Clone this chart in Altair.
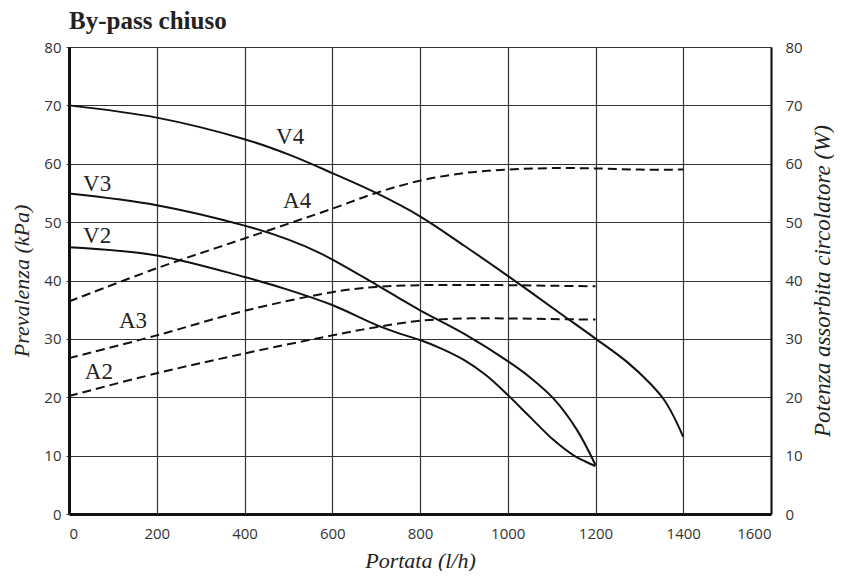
import altair as alt
import pandas as pd

# Pump curves (Prevalenza, kPa) - left axis
V4_x = [0, 200, 400, 500, 600, 700, 800, 900, 1000, 1119, 1200, 1271, 1324, 1355, 1377, 1400]
V4_y = [70, 67.9, 64.2, 61.6, 58.4, 55.0, 51.0, 46.0, 40.8, 34.4, 30.05, 26.1, 22.4, 19.7, 16.9, 13.2]
V3_x = [0, 200, 400, 500, 572, 700, 754, 800, 900, 1000, 1051, 1104, 1157, 1200]
V3_y = [54.9, 52.9, 49.4, 47.0, 44.7, 39.3, 36.9, 34.9, 30.9, 26.2, 23.4, 19.8, 14.5, 8.4]
V2_x = [0, 200, 400, 500, 600, 700, 754, 800, 850, 900, 950, 1000, 1051, 1104, 1149, 1200]
V2_y = [45.7, 44.3, 40.6, 38.4, 35.8, 32.4, 30.9, 29.8, 28.3, 26.4, 23.8, 20.4, 16.6, 12.7, 10.1, 8.2]

# Absorbed power curves (W) - right axis
A4_x = [0, 200, 400, 600, 700, 800, 900, 1000, 1100, 1200, 1300, 1400]
A4_y = [36.4, 42.1, 47.2, 52.3, 55.0, 57.1, 58.4, 59.0, 59.25, 59.2, 59.0, 59.0]
A3_x = [0, 200, 400, 600, 700, 800, 900, 1000, 1100, 1200]
A3_y = [26.7, 30.6, 34.8, 38.0, 38.9, 39.2, 39.25, 39.2, 39.1, 39.0]
A2_x = [0, 200, 400, 600, 700, 800, 900, 1000, 1100, 1200]
A2_y = [20.2, 24.1, 27.5, 30.6, 32.0, 33.1, 33.5, 33.5, 33.4, 33.3]

# Curve labels
label_text = ["V4", "V3", "V2", "A4", "A3", "A2"]
label_x = [504, 64, 64, 520, 146, 68]
label_y = [64.5, 56.6, 47.6, 53.7, 33.0, 24.3]

x_ticks = [0, 200, 400, 600, 800, 1000, 1200, 1400, 1600]
y_ticks = [0, 10, 20, 30, 40, 50, 60, 70, 80]

def frame(name, xs, ys):
    return pd.DataFrame({"serie": name, "portata": xs, "valore": ys})

v_df = pd.concat([frame("V4", V4_x, V4_y), frame("V3", V3_x, V3_y), frame("V2", V2_x, V2_y)])
a_df = pd.concat([frame("A4", A4_x, A4_y), frame("A3", A3_x, A3_y), frame("A2", A2_x, A2_y)])
lab_df = pd.DataFrame({"t": label_text, "portata": label_x, "valore": label_y})

SERIF = "Liberation Serif"
SANS = "Open Sans"
INTERP = "catmull-rom"

x_enc = alt.X("portata:Q", scale=alt.Scale(domain=[0, 1600], nice=False),
              axis=alt.Axis(values=x_ticks, format="d", title="Portata (l/h)", grid=True,
                            gridColor="#333", gridWidth=1.2,
                            domainColor="#111", domainWidth=3,
                            tickSize=0, labelPadding=12,
                            labelFont=SANS, labelFontSize=15, labelColor="#333",
                            titleFont=SERIF, titleFontSize=22, titleFontStyle="italic",
                            titleFontWeight="normal", titleColor="#222", titlePadding=9))

y_left = alt.Y("valore:Q", scale=alt.Scale(domain=[0, 80], nice=False),
               axis=alt.Axis(values=y_ticks, format="d", title="Prevalenza (kPa)", orient="left",
                             grid=True, gridColor="#333", gridWidth=1.2,
                             domainColor="#111", domainWidth=3,
                             tickSize=3, tickColor="#444", labelPadding=5,
                             labelFont=SANS, labelFontSize=15, labelColor="#333",
                             titleFont=SERIF, titleFontSize=22, titleFontStyle="italic",
                             titleFontWeight="normal", titleColor="#222", titlePadding=10))

y_right = alt.Y("valore:Q", scale=alt.Scale(domain=[0, 80], nice=False),
                axis=alt.Axis(values=y_ticks, format="d", title="Potenza assorbita circolatore (W)",
                              orient="right", grid=False,
                              domainColor="#111", domainWidth=2,
                              tickSize=0, labelPadding=14,
                              labelFont=SANS, labelFontSize=15, labelColor="#333",
                              titleAngle=270, titleBaseline="top",
                              titleFont=SERIF, titleFontSize=23, titleFontStyle="italic",
                              titleFontWeight="normal", titleColor="#222", titlePadding=9))

v_lines = alt.Chart(v_df).mark_line(color="#111", strokeWidth=2, interpolate=INTERP).encode(
    x=x_enc, y=y_left, detail="serie:N")

labels = alt.Chart(lab_df).mark_text(font=SERIF, fontSize=23, color="#222").encode(
    x=alt.X("portata:Q"), y=alt.Y("valore:Q"), text="t:N")

left = alt.layer(v_lines, labels)

a_lines = alt.Chart(a_df).mark_line(color="#111", strokeWidth=2, strokeDash=[9, 5],
                                    interpolate=INTERP).encode(
    x=alt.X("portata:Q", scale=alt.Scale(domain=[0, 1600], nice=False)),
    y=y_right, detail="serie:N")

chart = alt.layer(left, a_lines).resolve_scale(y="independent").properties(
    width=702, height=467,
    autosize=alt.AutoSizeParams(type="none"),
    padding={"left": 61, "top": 39, "right": 63, "bottom": 57},
    title=alt.TitleParams("By-pass chiuso", anchor="start", frame="group", font=SERIF,
                          fontSize=25, fontWeight="bold", color="#222", offset=6),
).configure_view(stroke="#111", strokeWidth=2).configure(background="white")

chart.save("out.html", embed_options={"renderer": "svg", "actions": False})
